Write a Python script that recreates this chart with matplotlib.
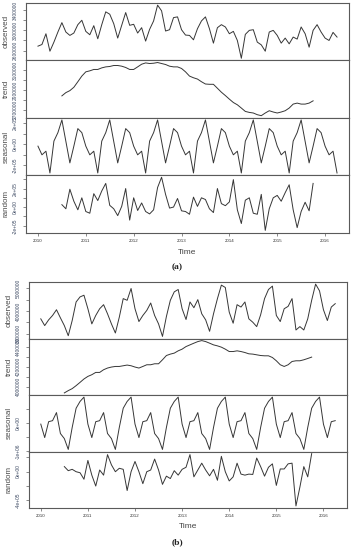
import numpy as np
import matplotlib
matplotlib.use("Agg")
import matplotlib.pyplot as plt

plt.rcParams["font.family"] = ["Liberation Sans", "DejaVu Sans"]

# ---------------- data ----------------
start_year = 2010
n_months = 76
year_ticks = [2010, 2011, 2012, 2013, 2014, 2015, 2016]

# (a)
observed_a = [2.687, 2.720, 2.933, 2.587, 2.767, 2.967, 3.153, 2.967, 2.900, 2.947, 3.113, 3.200,
              2.980, 2.913, 3.093, 2.833, 3.113, 3.367, 3.320, 3.133, 2.847, 3.100, 3.353, 3.100,
              3.120, 2.947, 3.053, 2.787, 3.020, 3.187, 3.500, 3.387, 2.987, 3.013, 3.253, 3.267,
              3.013, 2.907, 2.900, 2.813, 3.033, 3.187, 3.267, 3.033, 2.747, 3.053, 3.113, 3.067,
              2.933, 2.980, 2.800, 2.447, 2.920, 3.000, 3.013, 2.767, 2.713, 2.587, 2.967, 3.000,
              2.900, 2.747, 2.847, 2.733, 2.867, 2.827, 3.067, 2.933, 2.667, 3.000, 3.113, 2.967,
              2.847, 2.800, 2.960, 2.867]  # millions
trend_a = [2.840, 2.873, 2.893, 2.927, 2.983, 3.040, 3.083, 3.093, 3.107, 3.107, 3.123, 3.133,
           3.137, 3.147, 3.147, 3.140, 3.127, 3.107, 3.107, 3.133, 3.160, 3.173, 3.167, 3.170,
           3.177, 3.167, 3.157, 3.140, 3.133, 3.133, 3.117, 3.083, 3.040, 3.023, 3.010, 2.983,
           2.960, 2.957, 2.957, 2.917, 2.877, 2.843, 2.807, 2.773, 2.750, 2.717, 2.683, 2.673,
           2.667, 2.650, 2.640, 2.667, 2.690, 2.677, 2.667, 2.677, 2.690, 2.717, 2.757, 2.767,
           2.757, 2.757, 2.767, 2.790]  # millions, Jul 2010 .. Oct 2015
seasonal_a = [-18000, -99800, -65600, -270800, 29500, 109300, 229000, 26600, -175800, -18000,
              147300, 109300]
random_a = [27750, -16650, 194250, 64750, -27750, 101750, -46250, -64750, 146150, 72150,
            175750, 257150, 20350, -16650, -90650, 9250, 201650, -138750, 101750, -35150,
            46250, -46250, -72150, -27750, 212750, 323750, 138750, -9250, 1850, 94350,
            -38850, -46250, -75850, 109150, 9250, 101750, 83250, -16650, -57350, 201650,
            38850, 16650, 57350, 297850, -27750, -175750, 75850, 101750, -64750, -75850,
            138750, -249750, -16650, 101750, 127650, 64750, 157250, 242350, -27750, -220150,
            -46250, 53650, -38850, 257150]

# (b)
observed_b = [3.652, 3.356, 3.607, 3.800, 4.052, 3.696, 3.356, 2.911, 3.578, 4.393, 4.615, 4.689,
              4.096, 3.430, 3.800, 4.096, 4.274, 3.874, 3.430, 3.030, 3.726, 4.541, 4.467, 4.985,
              4.096, 3.533, 3.800, 4.022, 4.348, 3.800, 3.430, 2.881, 3.756, 4.467, 4.837, 4.941,
              4.096, 3.622, 4.393, 4.141, 4.496, 3.874, 3.607, 3.104, 3.874, 4.541, 5.133, 5.030,
              3.948, 3.459, 4.274, 4.170, 4.393, 3.652, 3.504, 3.311, 3.830, 4.541, 4.941, 5.089,
              3.800, 3.533, 4.096, 4.200, 4.541, 3.163, 3.311, 3.163, 3.652, 4.467, 5.178, 4.881,
              4.052, 3.578, 4.170, 4.319]  # millions
trend_b = [3.937, 3.960, 3.980, 4.010, 4.043, 4.077, 4.103, 4.120, 4.143, 4.143, 4.170, 4.187,
           4.197, 4.203, 4.203, 4.210, 4.217, 4.210, 4.197, 4.187, 4.203, 4.220, 4.220, 4.230,
           4.230, 4.270, 4.313, 4.327, 4.337, 4.360, 4.377, 4.403, 4.420, 4.437, 4.453, 4.463,
           4.453, 4.437, 4.420, 4.410, 4.397, 4.377, 4.353, 4.353, 4.360, 4.353, 4.343, 4.330,
           4.327, 4.320, 4.313, 4.310, 4.310, 4.293, 4.260, 4.220, 4.203, 4.220, 4.253, 4.260,
           4.260, 4.270, 4.283, 4.297]  # millions
seasonal_b = [-50000, -525000, 35700, 71400, 357100, -382100, -560700, -942900, -167900, 510700,
              750000, 903600]
random_b = [70300, 12100, 31500, -2400, -17000, -109100, 157600, -50900, -206000, 21800,
            -50900, 240000, 94500, -2400, 46100, 31500, -269100, -2400, 143000, -2400,
            -172100, -2400, 21800, 177000, 21800, -181800, -65400, -99400, 12100, -50900,
            31500, 60600, 240000, -75100, 21800, 118800, 21800, -60600, 31500, -123600,
            215700, -2400, -133300, -75100, 118800, -36400, -50900, -36400, -41200, 191500,
            70300, -65400, 60600, 109100, -196300, 36400, 36400, 109100, 118800, -487200,
            -220600, 70300, -75100, 254500]

panel_names = ["observed", "trend", "seasonal", "random"]

# y-axis ticks (values) and which of them carry a label
ticks_a = {
    "observed": ([2.6e6, 2.8e6, 3.0e6, 3.2e6, 3.4e6], [2.6e6, 3.0e6, 3.4e6], "int"),
    "trend": ([2.7e6, 2.8e6, 2.9e6, 3.0e6, 3.1e6], [2.7e6, 2.9e6, 3.1e6], "int"),
    "seasonal": ([-2e5, -1e5, 0, 1e5, 2e5], [-2e5, 0, 2e5], "sci"),
    "random": ([-2e5, -1e5, 0, 1e5, 2e5, 3e5], [-2e5, 0, 2e5], "sci"),
}
ticks_b = {
    "observed": ([3.0e6, 3.5e6, 4.0e6, 4.5e6, 5.0e6], [3.0e6, 4.0e6, 5.0e6], "int"),
    "trend": ([4.0e6, 4.1e6, 4.2e6, 4.3e6, 4.4e6], [4.0e6, 4.2e6, 4.4e6], "int"),
    "seasonal": ([-1e6, -5e5, 0, 5e5], [-1e6, 0], "sci"),
    "random": ([-4e5, -2e5, 0, 2e5], [-4e5, 0], "sci"),
}

# ---------------- drawing ----------------
W, H = 352, 550
fig = plt.figure(figsize=(W / 100, H / 100), dpi=100)
fig.patch.set_facecolor("white")

LINE = "#363636"
FRAME = "#5a5a5a"
TICKLAB = "#3d4a63"
LAB = "#4a4a4a"


def fmt(v, kind):
    if kind == "int":
        return "%d" % int(round(v))
    return "{:.0e}".format(v)


def rlim(vals):
    v = np.asarray(vals, float)
    v = v[~np.isnan(v)]
    lo, hi = v.min(), v.max()
    d = (hi - lo) * 0.04
    return lo - d, hi + d


def draw_block(left, right, tops, series, ticks, ylab_x, ytl_pad, time_y, cap_y, caption):
    t = start_year + np.arange(n_months) / 12.0
    xlim = (t[0] - 0.04 * (t[-1] - t[0]), t[-1] + 0.04 * (t[-1] - t[0]))
    for k, name in enumerate(panel_names):
        top, bot = tops[k], tops[k + 1]
        ax = fig.add_axes([left / W, 1 - bot / H, (right - left) / W, (bot - top) / H])
        x, y = series[name]
        ax.plot(x, y, color=LINE, lw=0.7)
        ax.set_xlim(*xlim)
        ax.set_ylim(*rlim(y))
        tv, tl, kind = ticks[name]
        ax.set_yticks(tv)
        ax.set_yticklabels([fmt(v, kind) if v in tl else "" for v in tv],
                           rotation=90, va="center", ha="center")
        ax.tick_params(axis="y", length=2, width=0.5, color=FRAME, labelsize=3.5,
                       labelcolor=TICKLAB, pad=5.5, direction="out")
        for s in ax.spines.values():
            s.set_color(FRAME)
            s.set_linewidth(0.8)
        if k < 3:
            ax.set_xticks([])
        else:
            ax.set_xticks(year_ticks)
            ax.set_xticklabels([str(v) for v in year_ticks])
            ax.tick_params(axis="x", length=2, width=0.5, color=FRAME, labelsize=3.2,
                           labelcolor="#333333", pad=2.5, direction="out")
        fig.text(ylab_x / W, 1 - ((top + bot) / 2) / H, name, rotation=90,
                 ha="center", va="center", fontsize=5.8, color=LAB)
    cx = (left + right) / 2
    fig.text(cx / W, 1 - time_y / H, "Time", ha="center", va="center",
             fontsize=6, color="#444444")
    fig.text(cx / W - 0.03, 1 - cap_y / H, caption, ha="center", va="center",
             fontsize=6.8, fontweight="bold", family="Liberation Serif", color="#222222")


t_all = start_year + np.arange(n_months) / 12.0
t_mid = t_all[6:70]

series_a = {
    "observed": (t_all, np.array(observed_a) * 1e6),
    "trend": (t_mid, np.array(trend_a) * 1e6),
    "seasonal": (t_all, np.tile(seasonal_a, 7)[:n_months]),
    "random": (t_mid, np.array(random_a, float)),
}
series_b = {
    "observed": (t_all, np.array(observed_b) * 1e6),
    "trend": (t_mid, np.array(trend_b) * 1e6),
    "seasonal": (t_all, np.tile(seasonal_b, 7)[:n_months]),
    "random": (t_mid, np.array(random_b, float)),
}

draw_block(26, 349, [3, 60.4, 117.8, 175.1, 232.5], series_a, ticks_a,
           ylab_x=6.5, ytl_pad=5.5, time_y=253, cap_y=267, caption="(a)")
draw_block(29, 347, [282, 338.5, 395, 451.5, 508], series_b, ticks_b,
           ylab_x=9, ytl_pad=5.5, time_y=527, cap_y=542, caption="(b)")

fig.savefig("out.png", dpi=100, facecolor="white")
